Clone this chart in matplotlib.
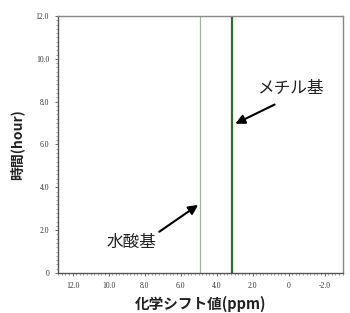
import matplotlib
matplotlib.use("Agg")
import matplotlib.pyplot as plt
from matplotlib.ticker import MultipleLocator, FuncFormatter

plt.rcParams['font.family'] = ['Noto Sans CJK JP', 'DejaVu Sans']

# data
peak_ppm = [4.9, 3.15]          # 水酸基, メチル基
time_range = [0.0, 12.0]
peak_colors = ['#9db89a', '#2f6a30']
peak_widths = [0.9, 1.6]
x_ticks = [12.0, 10.0, 8.0, 6.0, 4.0, 2.0, 0.0, -2.0]
y_ticks = [0, 2.0, 4.0, 6.0, 8.0, 10.0, 12.0]

fig = plt.figure(figsize=(3.5, 3.13), dpi=100)
ax = fig.add_axes([0.166, 0.128, 0.813, 0.821])

for p, c, w in zip(peak_ppm, peak_colors, peak_widths):
    ax.plot([p, p], time_range, color=c, lw=w)

ax.set_xlim(12.8, -3.0)
ax.set_ylim(0, 12)
ax.set_xticks(x_ticks)
ax.set_yticks(y_ticks)
fmt = FuncFormatter(lambda v, pos: '0' if abs(v) < 1e-9 else f'{v:.1f}')
ax.xaxis.set_major_formatter(fmt)
ax.yaxis.set_major_formatter(fmt)
ax.xaxis.set_minor_locator(MultipleLocator(0.2))
ax.yaxis.set_minor_locator(MultipleLocator(0.2))
ax.tick_params(which='major', length=2.5, width=0.6, color='#555555', labelsize=5.5,
               labelcolor='#333333', pad=4)
ax.tick_params(which='minor', length=1.5, width=0.5, color='#777777')
for lab in ax.get_xticklabels() + ax.get_yticklabels():
    lab.set_family('Liberation Serif')

for s in ['top', 'right']:
    ax.spines[s].set_color('#888888')
    ax.spines[s].set_linewidth(1.0)
for s in ['left', 'bottom']:
    ax.spines[s].set_color('#555555')
    ax.spines[s].set_linewidth(1.0)

ax.set_ylabel('時間(hour)', fontsize=10, fontweight='bold', color='#222222', labelpad=8)
ax.set_xlabel('化学シフト値(ppm)', fontsize=10.5, fontweight='bold', color='#222222', labelpad=4)

# annotations
ax.annotate('', xy=(3.1, 6.91), xytext=(0.64, 7.92),
            arrowprops=dict(arrowstyle='-|>', color='black', lw=1.5, mutation_scale=14))
ax.text(-0.1, 8.59, 'メチル基', fontsize=12, ha='center', va='center', color='#222222')
ax.annotate('', xy=(4.9, 3.25), xytext=(7.31, 1.85),
            arrowprops=dict(arrowstyle='-|>', color='black', lw=1.5, mutation_scale=14))
ax.text(8.71, 1.42, '水酸基', fontsize=12, ha='center', va='center', color='#222222')

fig.savefig('out.png', dpi=100)
